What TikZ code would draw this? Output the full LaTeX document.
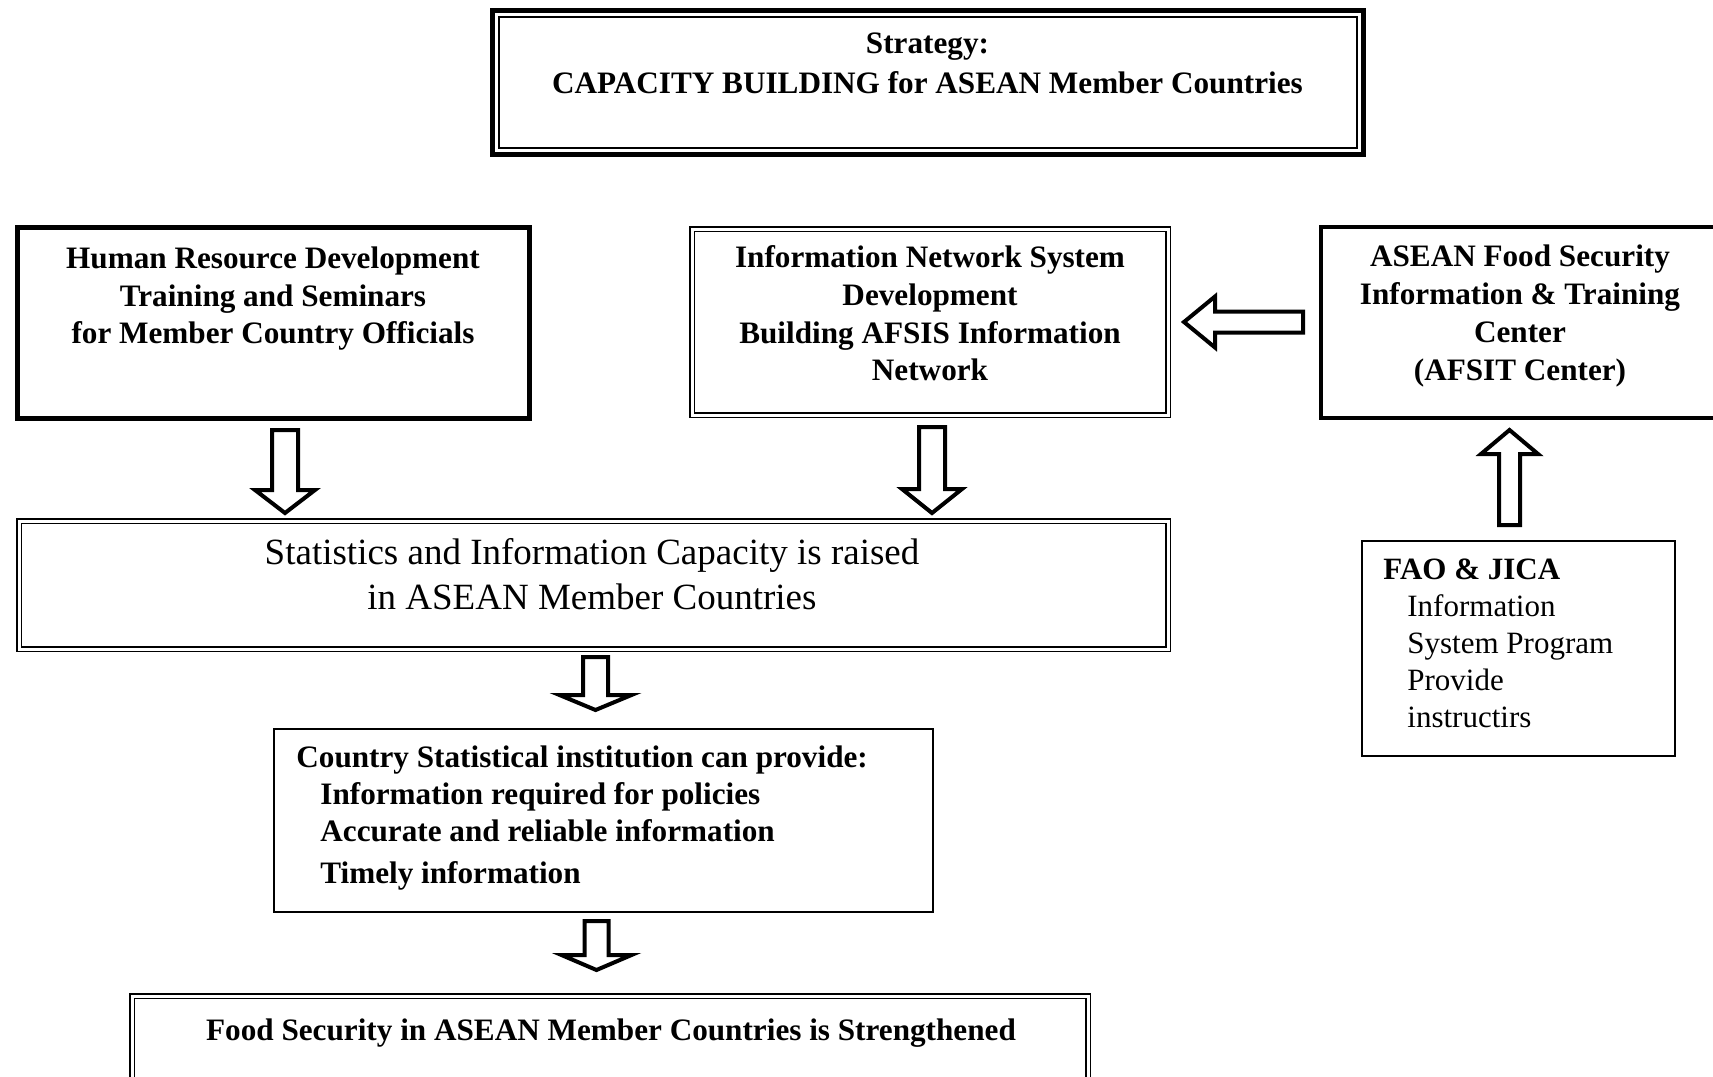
\documentclass[tikz,border=0pt]{standalone}
\usepackage{fontspec}
\setmainfont{Liberation Serif}
\usetikzlibrary{calc}
\tikzset{
  boxbase/.style={inner sep=0pt, outer sep=0pt},
  thickbox/.style={boxbase, draw, line width=2.25pt},
  midbox/.style={boxbase, draw, line width=1.6pt},
  thinbox/.style={boxbase, draw, line width=1pt},
  dblbox/.style={boxbase, draw, double, double distance=1.5pt, line width=0.8pt},
  btxt/.style={inner sep=0pt, align=center, font=\fontsize{15.6pt}{18.75pt}\selectfont\bfseries},
  rtxt/.style={inner sep=0pt, align=center, font=\fontsize{18.5pt}{22.5pt}\selectfont},
  hollow/.style={draw, line width=2pt, fill=white, line join=miter, miter limit=10},
}
\newcommand\hollowarrow[5]{%
  \path ($(#2)!#5!(#1)$) coordinate (habase);
  \draw[hollow] ($(#1)!#3!90:(#2)$) -- ($(habase)!#3!90:(#2)$) -- ($(habase)!#4!90:(#2)$)
     -- (#2) -- ($(habase)!#4!-90:(#2)$) -- ($(habase)!#3!-90:(#2)$) -- ($(#1)!#3!-90:(#2)$) -- cycle;
}
\begin{document}
\begin{tikzpicture}[x=0.5pt,y=-0.5pt]
\useasboundingbox (0,0) rectangle (1713,1076);
\fill[white] (0,0) rectangle (1713,1076);

% top strategy box (thick-thin frame)
\node[boxbase, draw, line width=2.5pt, minimum width=435.5pt, minimum height=72pt] (top) at (928,82.5) {};
\draw[line width=1pt] ([shift={(3.25pt,-3.25pt)}]top.north west) rectangle ([shift={(-3.25pt,3.25pt)}]top.south east);
\node[btxt, font=\fontsize{15.6pt}{20pt}\selectfont\bfseries] (toptxt) at (927.5,63) {Strategy:\\CAPACITY BUILDING for ASEAN Member Countries};

% second row
\node[thickbox, minimum width=256pt, minimum height=95.5pt] (hrd) at (273.5,323) {};
\node[btxt] (hrdtxt) at (273,299) {Human Resource Development\\Training and Seminars\\for Member Country Officials};

\node[dblbox, minimum width=238pt, minimum height=93pt] (net) at (930,322) {};
\node[btxt, font=\fontsize{15.6pt}{18.85pt}\selectfont\bfseries] (nettxt) at (930,313.5) {Information Network System\\Development\\Building AFSIS Information\\Network};

\node[midbox, minimum width=199.5pt, minimum height=95.5pt] (afsit) at (1520.5,322.5) {};
\node[btxt, font=\fontsize{15.6pt}{18.85pt}\selectfont\bfseries] (afsittxt) at (1520,316) {ASEAN Food Security\\Information \& Training\\Center\\(AFSIT Center)};

% statistics box
\node[dblbox, minimum width=574.5pt, minimum height=64pt] (stats) at (593.5,585) {};
\node[rtxt] (statstxt) at (592,574.5) {Statistics and Information Capacity is raised\\in ASEAN Member Countries};

% country box
\node[thinbox, minimum width=329.5pt, minimum height=91.5pt] (country) at (603.5,820.5) {};
\node[inner sep=0pt, anchor=west, align=left, font=\fontsize{15.6pt}{18.3pt}\selectfont\bfseries] (countrytxt) at (296,818)
 {Country Statistical institution can provide:\\
  \hspace*{12pt}Information required for policies\\
  \hspace*{12pt}Accurate and reliable information\\[2.7pt]
  \hspace*{12pt}Timely information};

% FAO box
\node[thinbox, minimum width=156.5pt, minimum height=107.5pt] (fao) at (1518.5,648.5) {};
\node[inner sep=0pt, anchor=west, align=left, font=\fontsize{15.5pt}{18.5pt}\selectfont] (faotxt) at (1383,643)
 {{\bfseries FAO \& JICA}\\
  \hspace*{12pt}Information\\
  \hspace*{12pt}System Program\\
  \hspace*{12pt}Provide\\
  \hspace*{12pt}instructirs};

% food security box
\node[dblbox, minimum width=478pt, minimum height=44.5pt] (food) at (610,1040.5) {};
\node[btxt] (foodtxt) at (611,1033) {Food Security in ASEAN Member Countries is Strengthened};

% hollow block arrows
\coordinate (a1s) at (285,430);  \coordinate (a1t) at (285,513);
\coordinate (a2s) at (932,427);  \coordinate (a2t) at (932,513);
\coordinate (a3s) at (595.5,657); \coordinate (a3t) at (595.5,710);
\coordinate (a4s) at (596.5,921); \coordinate (a4t) at (596.5,970);
\coordinate (a5s) at (1303,322); \coordinate (a5t) at (1184,322);
\coordinate (a6s) at (1509.5,525); \coordinate (a6t) at (1509.5,430);

\hollowarrow{a1s}{a1t}{6.5pt}{15pt}{11.5pt}
\hollowarrow{a2s}{a2t}{6.5pt}{15pt}{12pt}
\hollowarrow{a3s}{a3t}{6.25pt}{18pt}{7.5pt}
\hollowarrow{a4s}{a4t}{6pt}{17.5pt}{7.5pt}
\hollowarrow{a5s}{a5t}{5.25pt}{12.75pt}{15.5pt}
\hollowarrow{a6s}{a6t}{5.25pt}{14.25pt}{12pt}
\end{tikzpicture}
\end{document}
